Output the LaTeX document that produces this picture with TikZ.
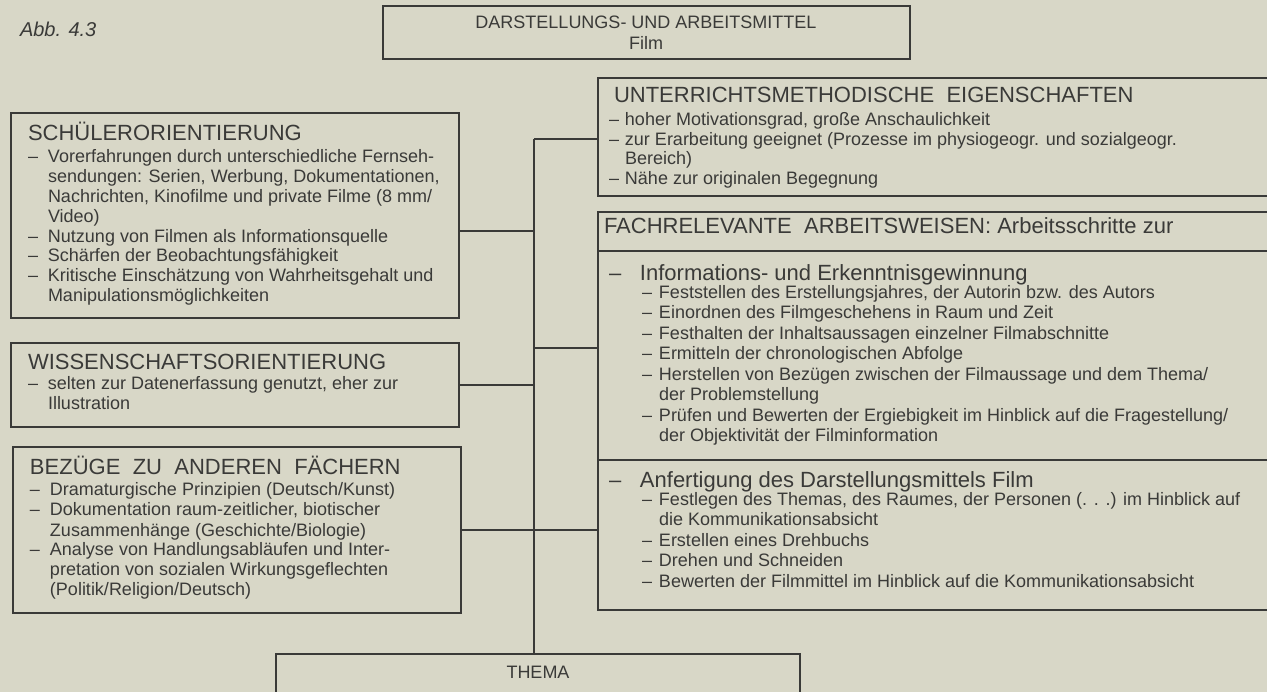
\documentclass[tikz,border=0pt]{standalone}
\usepackage{fontspec}
\setmainfont{Liberation Sans}
\definecolor{paper}{RGB}{216,215,199}
\definecolor{ink}{RGB}{58,58,56}
\newcommand\dsh[1]{\makebox[#1][l]{–}}
\newcommand\ind[1]{\hspace*{#1}}
\newcommand\txtblock[3]{\vtop{\fontsize{#1}{#2}\selectfont\hsize=900pt\parindent=0pt\parskip=0pt\lineskiplimit=-40pt\rightskip=0pt plus 1fil #3}}
\newcommand\hdfont{\fontsize{22}{26}\selectfont}
\newcommand\dblsp{\hspace{0.56em}}
\begin{document}
\begin{tikzpicture}[x=1pt,y=-1pt,
  boxn/.style={draw=ink, line width=1.3pt, anchor=north west, inner sep=0pt, outer sep=0pt},
  conn/.style={draw=ink, line width=1.1pt},
  rule/.style={draw=ink, line width=1.3pt},
  txt/.style={inner sep=0pt, outer sep=0pt, text=ink, anchor=base west},
  ctxt/.style={inner sep=0pt, outer sep=0pt, text=ink, anchor=base, font=\fontsize{18}{20}\selectfont},
  hd/.style={txt, font=\hdfont}]
\clip (0,0) rectangle (1267,692);
\fill[paper] (0,0) rectangle (1267,692);

% caption
\node[txt, font=\fontsize{20}{24}\selectfont\itshape] (abb) at (20,37) {Abb. 4.3};

% boxes
\node[boxn, minimum width=527pt, minimum height=53pt] (top) at (383,6) {};
\node[boxn, minimum width=448pt, minimum height=205pt] (schu) at (11,113) {};
\node[boxn, minimum width=448pt, minimum height=84pt] (wiss) at (11,343) {};
\node[boxn, minimum width=448pt, minimum height=166pt] (bez) at (13,447) {};
\node[boxn, minimum width=680pt, minimum height=118pt] (unt) at (598,78) {};
\node[boxn, minimum width=680pt, minimum height=398pt] (fach) at (598,212) {};
\node[boxn, minimum width=524pt, minimum height=60pt] (thema) at (276,654) {};

% top and bottom texts
\node[ctxt] (toptxt) at (646,29) {DARSTELLUNGS- UND ARBEITSMITTEL};
\node[ctxt] (filmtxt) at (646,50) {Film};
\node[ctxt] (thematxt) at (538,678.5) {THEMA};

% connectors
\coordinate (spn) at (534,139);
\coordinate (ja) at (534,231);
\coordinate (jb) at (534,385);
\coordinate (jc) at (534,348);
\coordinate (jd) at (534,530);
\draw[conn] (spn) -- (spn |- thema.north);
\draw[conn] (spn) -- (unt.west |- spn);
\draw[conn] (schu.east |- ja) -- (ja);
\draw[conn] (wiss.east |- jb) -- (jb);
\draw[conn] (jc) -- (fach.west |- jc);
\draw[conn] (bez.east |- jd) -- (fach.west |- jd);

% inner rules of Fach box
\coordinate (r1) at (0,251);
\coordinate (r2) at (0,460);
\draw[rule] (fach.west |- r1) -- (fach.east |- r1);
\draw[rule] (fach.west |- r2) -- (fach.east |- r2);

% left column
\node[hd] (schuh) at (28,141) {SCHÜLERORIENTIERUNG};
\node[txt] (schub) at (28,163) {\txtblock{18}{19.8}{%
\dsh{20pt}Vorerfahrungen durch unterschiedliche Fernseh-\par
\ind{20pt}sendungen: Serien, Werbung, Dokumentationen,\par
\ind{20pt}Nachrichten, Kinofilme und private Filme (8 mm/\par
\ind{20pt}Video)\par
\dsh{20pt}Nutzung von Filmen als Informationsquelle\par
\dsh{20pt}Schärfen der Beobachtungsfähigkeit\par
\dsh{20pt}Kritische Einschätzung von Wahrheitsgehalt und\par
\ind{20pt}Manipulationsmöglichkeiten\par}};

\node[hd] (wissh) at (28,370) {WISSENSCHAFTSORIENTIERUNG};
\node[txt] (wissb) at (28,390) {\txtblock{18}{20}{%
\dsh{20pt}selten zur Datenerfassung genutzt, eher zur\par
\ind{20pt}Illustration\par}};

\node[hd] (bezh) at (30,475) {BEZÜGE\dblsp ZU\dblsp ANDEREN\dblsp FÄCHERN};
\node[txt] (bezb) at (30,496) {\txtblock{18}{20}{%
\dsh{20pt}Dramaturgische Prinzipien (Deutsch/Kunst)\par
\dsh{20pt}Dokumentation raum-zeitlicher, biotischer\par
\ind{20pt}Zusammenhänge (Geschichte/Biologie)\par
\dsh{20pt}Analyse von Handlungsabläufen und Inter-\par
\ind{20pt}pretation von sozialen Wirkungsgeflechten\par
\ind{20pt}(Politik/Religion/Deutsch)\par}};

% right column
\node[hd] (unth) at (614,103) {UNTERRICHTSMETHODISCHE\dblsp EIGENSCHAFTEN};
\node[txt] (untb) at (609,126) {\txtblock{18}{19.5}{%
\dsh{16pt}hoher Motivationsgrad, große Anschaulichkeit\par
\dsh{16pt}zur Erarbeitung geeignet (Prozesse im physiogeogr. und sozialgeogr.\par
\ind{16pt}Bereich)\par
\dsh{16pt}Nähe zur originalen Begegnung\par}};

\node[hd] (fachh) at (604,234) {FACHRELEVANTE\dblsp ARBEITSWEISEN: Arbeitsschritte zur};
\node[hd] (s1h) at (609,281) {\dsh{31pt}Informations- und Erkenntnisgewinnung};
\node[txt] (s1b) at (642,298.5) {\txtblock{18}{20.5}{%
\dsh{17pt}Feststellen des Erstellungsjahres, der Autorin bzw. des Autors\par
\dsh{17pt}Einordnen des Filmgeschehens in Raum und Zeit\par
\dsh{17pt}Festhalten der Inhaltsaussagen einzelner Filmabschnitte\par
\dsh{17pt}Ermitteln der chronologischen Abfolge\par
\dsh{17pt}Herstellen von Bezügen zwischen der Filmaussage und dem Thema/\par
\ind{17pt}der Problemstellung\par
\dsh{17pt}Prüfen und Bewerten der Ergiebigkeit im Hinblick auf die Fragestellung/\par
\ind{17pt}der Objektivität der Filminformation\par}};

\node[hd] (s2h) at (609,488) {\dsh{31pt}Anfertigung des Darstellungsmittels Film};
\node[txt] (s2b) at (642,505.5) {\txtblock{18}{20.5}{%
\dsh{17pt}Festlegen des Themas, des Raumes, der Personen (. . .) im Hinblick auf\par
\ind{17pt}die Kommunikationsabsicht\par
\dsh{17pt}Erstellen eines Drehbuchs\par
\dsh{17pt}Drehen und Schneiden\par
\dsh{17pt}Bewerten der Filmmittel im Hinblick auf die Kommunikationsabsicht\par}};
\end{tikzpicture}
\end{document}
